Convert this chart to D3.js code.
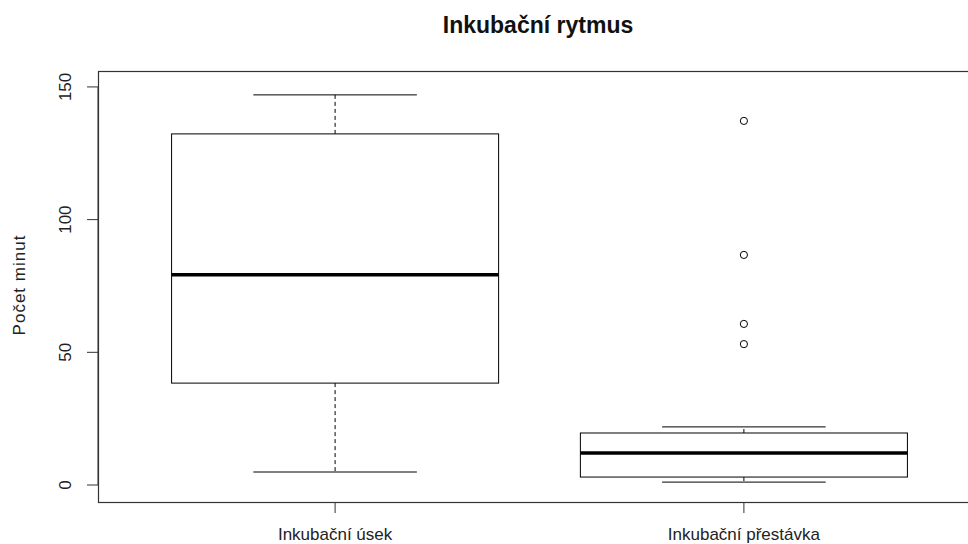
<!DOCTYPE html>
<html><head><meta charset="utf-8">
<script src="https://cdn.jsdelivr.net/npm/d3@7"></script>
<style>body{margin:0;background:#fff}svg{display:block}text{font-family:"Liberation Sans",Arial,sans-serif}</style>
</head><body><svg id="c" width="968" height="544"></svg>
<script>
const categories = ["Inkubační úsek", "Inkubační přestávka"];
const whiskerLow  = [4.9, 1.1];
const q1          = [38.4, 3.0];
const median      = [79.2, 12.1];
const q3          = [132.3, 19.6];
const whiskerHigh = [147.0, 21.9];
const outliers    = [[], [137.2, 86.7, 60.7, 53.1]];
const yTicks = [0, 50, 100, 150];

const svg = d3.select("#c");
const L = 98, R = 981, T = 71, B = 502;
const x = d3.scaleLinear().domain([0.42, 2.58]).range([L, R]);
const y = d3.scaleLinear().domain([-6.4, 156.0]).range([B, T]);
const col = "#000";

// frame
svg.append("rect").attr("x", L+0.5).attr("y", T+0.5).attr("width", R-L).attr("height", B-T)
  .attr("fill","none").attr("stroke","#333").attr("stroke-width",1.2);

categories.forEach((c,i)=>{
  const cx = x(i+1), bw = x(0.8)-x(0), cw = x(0.4)-x(0);
  const g = svg.append("g");
  g.append("line").attr("x1",cx).attr("x2",cx).attr("y1",y(q3[i])).attr("y2",y(whiskerHigh[i]))
    .attr("stroke",col).attr("stroke-dasharray","4,3");
  g.append("line").attr("x1",cx).attr("x2",cx).attr("y1",y(q1[i])).attr("y2",y(whiskerLow[i]))
    .attr("stroke",col).attr("stroke-dasharray","4,3");
  [whiskerHigh[i], whiskerLow[i]].forEach(v=>{
    g.append("line").attr("x1",cx-cw/2).attr("x2",cx+cw/2).attr("y1",y(v)).attr("y2",y(v)).attr("stroke",col);
  });
  g.append("rect").attr("x",cx-bw/2).attr("y",y(q3[i])).attr("width",bw).attr("height",y(q1[i])-y(q3[i]))
    .attr("fill","#fff").attr("stroke",col);
  g.append("line").attr("x1",cx-bw/2).attr("x2",cx+bw/2).attr("y1",y(median[i])).attr("y2",y(median[i]))
    .attr("stroke",col).attr("stroke-width",3.5);
  outliers[i].forEach(v=>{
    g.append("circle").attr("cx",cx).attr("cy",y(v)).attr("r",3.6).attr("fill","none").attr("stroke",col);
  });
});

// y axis
const ya = svg.append("g").attr("transform",`translate(${L-11},0)`);
ya.append("line").attr("x1",11).attr("x2",11).attr("y1",y(0)).attr("y2",y(150)).attr("stroke","#333");
yTicks.forEach(v=>{
  ya.append("line").attr("x1",0).attr("x2",11).attr("y1",y(v)).attr("y2",y(v)).attr("stroke","#333");
  ya.append("text").attr("transform",`translate(-16,${y(v)}) rotate(-90)`).attr("text-anchor","middle")
    .attr("font-size",17).attr("fill","#222").text(v);
});
// x axis ticks
categories.forEach((c,i)=>{
  svg.append("line").attr("x1",x(i+1)).attr("x2",x(i+1)).attr("y1",B).attr("y2",B+11).attr("stroke","#333");
  svg.append("text").attr("x",x(i+1)).attr("y",539.5).attr("text-anchor","middle").attr("font-size",17).attr("fill","#222").text(c);
});

svg.append("text").attr("x",538).attr("y",33).attr("text-anchor","middle").attr("font-size",23)
  .attr("font-weight","bold").attr("fill","#111").text("Inkubační rytmus");
svg.append("text").attr("transform",`translate(25,285) rotate(-90)`).attr("text-anchor","middle")
  .attr("font-size",17).attr("letter-spacing",1).attr("fill","#222").text("Počet minut");
</script></body></html>
